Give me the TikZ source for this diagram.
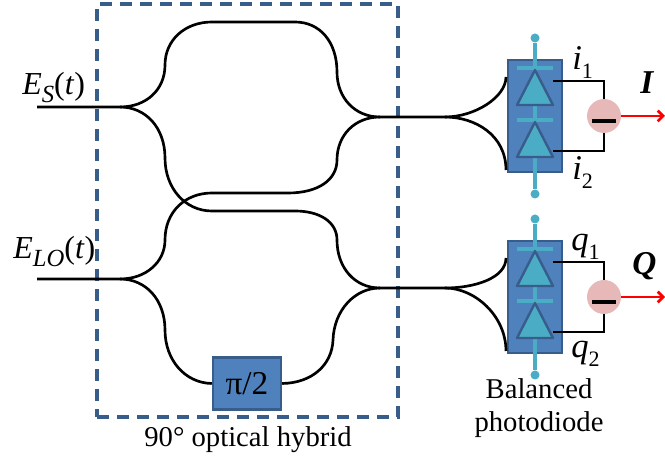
\documentclass[tikz,border=0pt]{standalone}
\usepackage{fontspec}
\setmainfont{Liberation Serif}
\usetikzlibrary{arrows.meta}
\definecolor{boxblue}{HTML}{4F81BD}
\definecolor{boxedge}{HTML}{385D8A}
\definecolor{teal}{HTML}{4BACC6}
\definecolor{pinkc}{HTML}{E6B9B8}
\newcommand{\lbl}[2]{\textit{#1}\raisebox{-0.22em}{\fontsize{18.5}{19}\selectfont\textit{#2}}}
\newcommand{\idx}[2]{\textit{#1}\raisebox{-0.25em}{\fontsize{16.5}{17}\selectfont #2}}
\tikzset{
  x=0.75pt,y=-0.75pt,
  fibre/.style={draw=black,line width=2pt,line join=round},
  hybridbox/.style={draw=boxedge,line width=2.4pt,dash pattern=on 9pt off 6pt},
  bluebox/.style={draw=boxedge,line width=1.8pt,fill=boxblue,inner sep=0pt},
  stem/.style={draw=teal,line width=2.4pt},
  dotend/.style={circle,fill=teal,inner sep=0pt,minimum size=6.75pt},
  wire/.style={draw=black,line width=2.1pt},
  sumc/.style={circle,fill=pinkc,inner sep=0pt,minimum size=25.5pt},
  redarrow/.style={draw=red,line width=2pt,-{Straight Barb[length=4pt,width=8pt]}},
  txt/.style={inner sep=0pt,anchor=base,font=\fontsize{24}{26}\selectfont},
  small/.style={inner sep=0pt,anchor=base,font=\fontsize{21.5}{24}\selectfont},
  pics/pd/.style={code={
    \node[bluebox,minimum width=40.5pt,minimum height=84pt] (-box) at (0,0) {};
    \node[dotend] (-top) at (0,-78) {};
    \node[dotend] (-bot) at (0,78) {};
    \draw[stem] (-top) -- (-bot);
    \draw[stem] (-18,-48) -- (18,-48);
    \draw[stem] (-18,4) -- (18,4);
    \draw[draw=boxedge,fill=teal,line width=1.8pt,line join=round] (0,-46) -- (18,-11) -- (-18,-11) -- cycle;
    \draw[draw=boxedge,fill=teal,line width=1.8pt,line join=round] (0,6) -- (18,41) -- (-18,41) -- cycle;
    \coordinate (-a) at (18,-35);
    \coordinate (-b) at (18,35);
    \coordinate (-ul) at (-29,-39);
    \coordinate (-ll) at (-29,54);
    \node[sumc] (-sum) at (69,0) {};
    \draw[wire] (-a) -| (-sum);
    \draw[wire] (-b) -| (-sum);
    \draw[line width=3pt,black] (57,5) -- (81,5);
    \coordinate (-out) at (130,0);
    \draw[redarrow] (-sum) -- (-out);
  }}
}
\begin{document}
\begin{tikzpicture}
\useasboundingbox (0,0) rectangle (665,459);
\node[hybridbox,minimum width=225.75pt,minimum height=309.75pt,inner sep=0pt,anchor=north west,outer sep=0pt] (hybrid) at (97,4) {};

\coordinate (es) at (37,107);
\coordinate (lo) at (37,279);
\coordinate (sp1) at (120,107);
\coordinate (sp2) at (120,279);
\coordinate (m1) at (380,117);
\coordinate (m2) at (380,288);
\coordinate (n1) at (445,117);
\coordinate (n2) at (445,288);

% photodiodes
\pic (pa) at (535,116) {pd};
\pic (pb) at (535,297) {pd};

% phase shifter
\node[bluebox,minimum width=51pt,minimum height=39pt,font=\fontsize{25}{27}\selectfont] (ps) at (247,383.5) {π/2};

% fibres
\draw[fibre] (es) -- (sp1) .. controls (146,107) and (165,90) .. (165,65)
  .. controls (165,40) and (185,22) .. (212,22) -- (295,22)
  .. controls (320,22) and (337,42) .. (337,72)
  .. controls (337,98) and (355,117) .. (m1) -- (n1);
\draw[fibre] (sp1) .. controls (146,107) and (165,128) .. (165,158)
  .. controls (165,188) and (185,211) .. (212,211) -- (295,211)
  .. controls (320,211) and (337,222) .. (337,240)
  .. controls (337,268) and (355,288) .. (m2) -- (n2);
\draw[fibre] (lo) -- (sp2) .. controls (146,279) and (165,262) .. (165,240)
  .. controls (165,212) and (185,193) .. (212,193) -- (288,193)
  .. controls (318,193) and (337,180) .. (337,160)
  .. controls (337,135) and (355,117) .. (m1);
\draw[fibre] (sp2) .. controls (146,279) and (165,300) .. (165,330)
  .. controls (165,360) and (185,383) .. (ps.west);
\draw[fibre] (ps.east) .. controls (312,383) and (332,365) .. (333,340)
  .. controls (334,310) and (355,288) .. (m2);
\draw[fibre] (n1) .. controls (475,117) and (506,97) .. (pa-ul);
\draw[fibre] (n1) .. controls (475,117) and (506,135) .. (pa-ll);
\draw[fibre] (n2) .. controls (475,288) and (506,278) .. (pb-ul);
\draw[fibre] (n2) .. controls (475,288) and (506,316) .. (pb-ll);

% labels
\node[txt,anchor=base west] (lesig) at (22,95) {\lbl{E}{S}(\textit{t})};
\node[txt,anchor=base west] (lelo) at (13,259) {\lbl{E}{LO}(\textit{t})};
\node[txt,anchor=base west,font=\fontsize{26}{28}\selectfont] (li1) at (572,70) {\idx{i}{1}};
\node[txt,anchor=base west,font=\fontsize{26}{28}\selectfont] (li2) at (572,180) {\idx{i}{2}};
\node[txt,anchor=base west,font=\fontsize{26}{28}\selectfont] (lq1) at (571,251) {\idx{q}{1}};
\node[txt,anchor=base west,font=\fontsize{26}{28}\selectfont] (lq2) at (571,358) {\idx{q}{2}};
\node[txt,anchor=base west,font=\fontsize{25}{26}\selectfont\bfseries\itshape] (lI) at (640,94) {I};
\node[txt,anchor=base west,font=\fontsize{25}{26}\selectfont\bfseries\itshape] (lQ) at (632,275) {Q};
\node[small] (lb1) at (539,399) {Balanced};
\node[small] (lb2) at (539,432) {photodiode};
\node[small] (lh) at (248,447) {90° optical hybrid};
\end{tikzpicture}
\end{document}
